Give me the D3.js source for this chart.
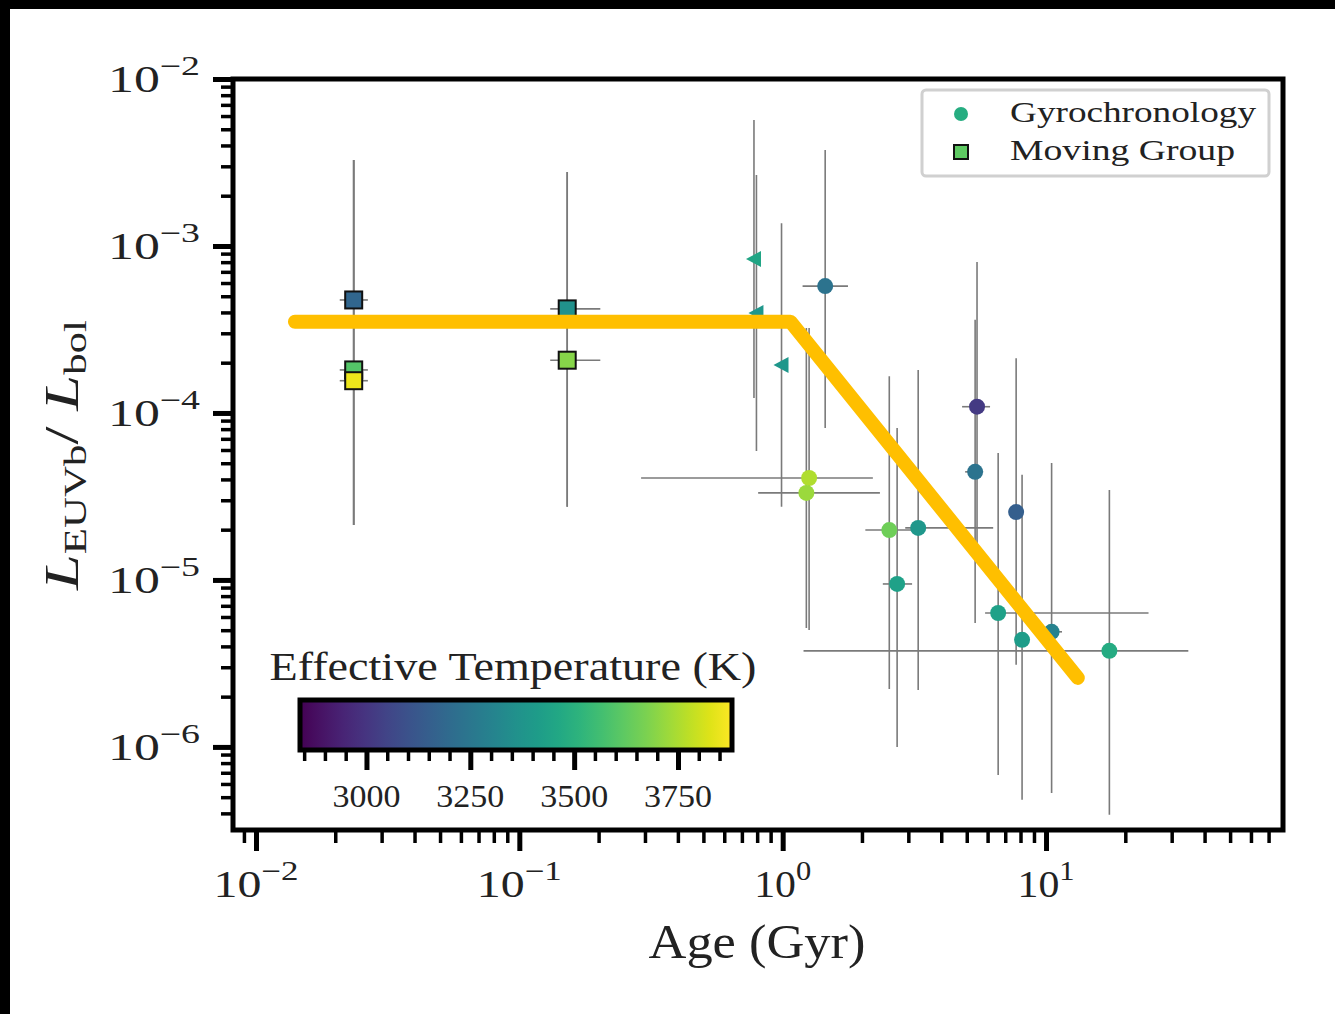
<!DOCTYPE html>
<html><head><meta charset="utf-8">
<script src="https://cdn.jsdelivr.net/npm/d3@7"></script>
<style>body{margin:0;background:#fff}svg{display:block}</style>
</head><body><svg id="c" width="1335" height="1014"></svg>
<script>
// ---------- data ----------
// Moving group (squares)
const mgAge   = [0.0235, 0.0235, 0.0235, 0.152, 0.152];
const mgAgeLo = [0.0208, 0.0208, 0.0208, 0.131, 0.131];
const mgAgeHi = [0.0266, 0.0266, 0.0266, 0.203, 0.203];
const mgLum   = [4.75e-4, 1.81e-4, 1.56e-4, 4.2e-4, 2.07e-4];
const mgLumLo = [2.13e-5, 2.13e-5, 2.13e-5, 2.74e-5, 2.74e-5];
const mgLumHi = [3.27e-3, 3.27e-3, 3.27e-3, 2.77e-3, 2.77e-3];
const mgTeff  = [3180, 3600, 3850, 3360, 3690];
// Upper-limit style points (left triangles)
const ulAge   = [0.778, 0.795, 0.99];
const ulLum   = [8.35e-4, 3.97e-4, 1.94e-4];
const ulLumLo = [1.23e-4, 5.91e-5, 2.74e-5];
const ulLumHi = [5.68e-3, 2.66e-3, 1.37e-3];
const ulTeff  = [3450, 3390, 3390];
// Gyrochronology (circles)
const gyAge   = [1.45, 1.26, 1.23, 2.54, 3.27, 2.72, 5.47, 5.38, 7.70, 6.58, 8.11, 10.5, 17.4];
const gyAgeLo = [1.19, 0.290, 0.807, 2.06, 2.92, 2.40, 4.80, 4.93, 7.70, 5.87, 8.11, 10.1, 1.20];
const gyAgeHi = [1.77, 2.20, 2.34, 3.10, 6.30, 3.10, 6.13, 5.77, 7.70, 24.5, 8.11, 11.5, 34.7];
const gyLum   = [5.75e-4, 4.08e-5, 3.32e-5, 1.99e-5, 2.05e-5, 9.46e-6, 1.09e-4, 4.44e-5, 2.55e-5, 6.34e-6, 4.38e-6, 4.89e-6, 3.76e-6];
const gyLumLo = [8.13e-5, 5.02e-6, 5.16e-6, 2.22e-6, 2.19e-6, 1.0e-6, 1.47e-5, 5.53e-6, 3.10e-6, 6.8e-7, 4.82e-7, 5.3e-7, 3.92e-7];
const gyLumHi = [3.76e-3, 3.23e-4, 3.23e-4, 1.66e-4, 1.81e-4, 8.13e-5, 8.02e-4, 3.61e-4, 2.13e-4, 5.75e-5, 4.26e-5, 5.02e-5, 3.46e-5];
const gyTeff  = [3235, 3755, 3725, 3650, 3390, 3430, 3017, 3235, 3150, 3430, 3410, 3300, 3475];
// Broken power-law fit
const fitAge = [0.01406, 1.07, 13.2];
const fitLum = [3.52e-4, 3.52e-4, 2.59e-6];
// ticks
const xMajor = [0.01, 0.1, 1, 10];
const xMajorExp = ["\u22122", "\u22121", "0", "1"];
const yMajor = [1e-6, 1e-5, 1e-4, 1e-3, 1e-2];
const yMajorExp = ["\u22126", "\u22125", "\u22124", "\u22123", "\u22122"];
const cbMajor = [3000, 3250, 3500, 3750];
const cbMinor = [2850, 2900, 2950, 3050, 3100, 3150, 3200, 3300, 3350, 3400, 3450, 3550, 3600, 3650, 3700, 3800, 3850];
const legendLabels = ["Gyrochronology", "Moving Group"];

// ---------- setup ----------
const svg = d3.select("#c");
const FONT = "'Liberation Serif', 'DejaVu Serif', serif";
const M = {left: 233, right: 1283, top: 79, bottom: 830};
const x = d3.scaleLog().domain([0.00818, 79.4]).range([M.left, M.right]);
const y = d3.scaleLog().domain([3.18e-7, 1e-2]).range([M.bottom, M.top]);
const tMin = 2840, tMax = 3880;
const color = t => d3.interpolateViridis((t - tMin) / (tMax - tMin));

svg.append("rect").attr("width", 1335).attr("height", 1014).attr("fill", "#fff");

// ---------- ticks ----------
const isMajor = v => Math.abs(Math.log10(v) - Math.round(Math.log10(v))) < 1e-6;
const xMinor = x.ticks(20).filter(v => !isMajor(v));
const yMinor = y.ticks(20).filter(v => !isMajor(v));

function styleAxis(g, w) {
  g.select(".domain").remove();
  g.selectAll(".tick line").attr("stroke", "#000").attr("stroke-width", w);
}
svg.append("g").attr("transform", `translate(0,${M.bottom})`)
  .call(d3.axisBottom(x).tickValues(xMinor).tickSize(13).tickFormat(""))
  .call(g => styleAxis(g, 3.5));
svg.append("g").attr("transform", `translate(0,${M.bottom})`)
  .call(d3.axisBottom(x).tickValues(xMajor).tickSize(21).tickFormat(""))
  .call(g => styleAxis(g, 5));
svg.append("g").attr("transform", `translate(${M.left},0)`)
  .call(d3.axisLeft(y).tickValues(yMinor).tickSize(12).tickFormat(""))
  .call(g => styleAxis(g, 3.5));
svg.append("g").attr("transform", `translate(${M.left},0)`)
  .call(d3.axisLeft(y).tickValues(yMajor).tickSize(20).tickFormat(""))
  .call(g => styleAxis(g, 5));

// tick labels
xMajor.forEach((v, i) => {
  const neg = xMajorExp[i].startsWith("\u2212");
  const t = svg.append("text").attr("x", x(v)).attr("y", 897)
    .attr("text-anchor", "middle").attr("font-family", FONT).attr("fill", "#222")
    .attr("textLength", neg ? 85 : 57).attr("lengthAdjust", "spacingAndGlyphs");
  t.append("tspan").attr("font-size", 37).text("10");
  t.append("tspan").attr("font-size", 27).attr("dy", -17).text(xMajorExp[i]);
});
yMajor.forEach((v, i) => {
  const t = svg.append("text").attr("x", 108).attr("y", y(v) + 13)
    .attr("text-anchor", "start").attr("font-family", FONT).attr("fill", "#222")
    .attr("textLength", 92).attr("lengthAdjust", "spacingAndGlyphs");
  t.append("tspan").attr("font-size", 37).text("10");
  t.append("tspan").attr("font-size", 27).attr("dy", -17).text(yMajorExp[i]);
});

// axis labels
svg.append("text").attr("x", 757).attr("y", 958).attr("text-anchor", "middle")
  .attr("font-family", FONT).attr("font-size", 48).attr("fill", "#222")
  .attr("textLength", 217).attr("lengthAdjust", "spacingAndGlyphs")
  .text("Age (Gyr)");
{
  const t = svg.append("text").attr("transform", "translate(78,455) rotate(-90)")
    .attr("text-anchor", "middle").attr("font-family", FONT).attr("fill", "#222")
    .attr("textLength", 270).attr("lengthAdjust", "spacingAndGlyphs");
  t.append("tspan").attr("font-size", 48).attr("font-style", "italic").text("L");
  t.append("tspan").attr("font-size", 32).attr("dy", 8).text("EUVb");
  t.append("tspan").attr("font-size", 48).attr("dy", -8).text("/ ");
  t.append("tspan").attr("font-size", 48).attr("font-style", "italic").text("L");
  t.append("tspan").attr("font-size", 32).attr("dy", 8).text("bol");
}

// ---------- error bars ----------
const eb = svg.append("g").attr("stroke", "#7a7a7a").attr("stroke-width", 1.6);
function errBars(age, ageLo, ageHi, lum, lumLo, lumHi) {
  age.forEach((a, i) => {
    eb.append("line").attr("x1", x(a)).attr("x2", x(a))
      .attr("y1", y(lumLo[i])).attr("y2", y(lumHi[i]));
    if (ageLo && ageHi[i] > ageLo[i]) {
      eb.append("line").attr("x1", x(ageLo[i])).attr("x2", x(ageHi[i]))
        .attr("y1", y(lum[i])).attr("y2", y(lum[i]));
    }
  });
}
errBars(mgAge, mgAgeLo, mgAgeHi, mgLum, mgLumLo, mgLumHi);
errBars(ulAge, null, null, ulLum, ulLumLo, ulLumHi);
errBars(gyAge, gyAgeLo, gyAgeHi, gyLum, gyLumLo, gyLumHi);

// ---------- markers ----------
svg.append("g").selectAll("path").data(ulAge).join("path")
  .attr("d", "M-8,0L7,-8L7,8Z")
  .attr("transform", (d, i) => `translate(${x(d)},${y(ulLum[i])})`)
  .attr("fill", (d, i) => color(ulTeff[i]));
svg.append("g").selectAll("circle").data(gyAge).join("circle")
  .attr("cx", d => x(d)).attr("cy", (d, i) => y(gyLum[i])).attr("r", 8)
  .attr("fill", (d, i) => color(gyTeff[i]));
svg.append("g").selectAll("rect").data(mgAge).join("rect")
  .attr("x", d => x(d) - 8.5).attr("y", (d, i) => y(mgLum[i]) - 8.5)
  .attr("width", 17).attr("height", 17)
  .attr("fill", (d, i) => color(mgTeff[i])).attr("stroke", "#111").attr("stroke-width", 2);

// ---------- fit line ----------
svg.append("path")
  .datum(fitAge.map((a, i) => [a, fitLum[i]]))
  .attr("d", d3.line().x(d => x(d[0])).y(d => y(d[1])))
  .attr("fill", "none").attr("stroke", "#ffbf00").attr("stroke-width", 14)
  .attr("stroke-linecap", "round").attr("stroke-linejoin", "round");

// ---------- spines ----------
svg.append("rect").attr("x", M.left).attr("y", M.top)
  .attr("width", M.right - M.left).attr("height", M.bottom - M.top)
  .attr("fill", "none").attr("stroke", "#000").attr("stroke-width", 5);

// ---------- legend ----------
const lg = svg.append("g");
lg.append("rect").attr("x", 922).attr("y", 90).attr("width", 347).attr("height", 86)
  .attr("rx", 4).attr("fill", "#fff").attr("stroke", "#d0d0d0").attr("stroke-width", 3);
lg.append("circle").attr("cx", 961).attr("cy", 114).attr("r", 7).attr("fill", d3.interpolateViridis(0.62));
lg.append("rect").attr("x", 954).attr("y", 145).attr("width", 14).attr("height", 14)
  .attr("fill", d3.interpolateViridis(0.75)).attr("stroke", "#111").attr("stroke-width", 2);
lg.append("text").attr("x", 1010).attr("y", 122).attr("font-family", FONT).attr("font-size", 30)
  .attr("fill", "#222").attr("textLength", 246).attr("lengthAdjust", "spacingAndGlyphs").text(legendLabels[0]);
lg.append("text").attr("x", 1010).attr("y", 160).attr("font-family", FONT).attr("font-size", 30)
  .attr("fill", "#222").attr("textLength", 225).attr("lengthAdjust", "spacingAndGlyphs").text(legendLabels[1]);

// ---------- colorbar ----------
const cb = d3.scaleLinear().domain([tMin, tMax]).range([300, 732]);
const grad = svg.append("defs").append("linearGradient").attr("id", "vir")
  .attr("x1", "0%").attr("x2", "100%").attr("y1", "0%").attr("y2", "0%");
d3.range(0, 1.0001, 0.05).forEach(s => grad.append("stop")
  .attr("offset", `${s * 100}%`).attr("stop-color", d3.interpolateViridis(s)));
svg.append("rect").attr("x", cb(tMin)).attr("y", 700).attr("width", cb(tMax) - cb(tMin)).attr("height", 50)
  .attr("fill", "url(#vir)").attr("stroke", "#000").attr("stroke-width", 5);
svg.append("g").attr("transform", "translate(0,752)")
  .call(d3.axisBottom(cb).tickValues(cbMinor).tickSize(9).tickFormat(""))
  .call(g => styleAxis(g, 3.5));
svg.append("g").attr("transform", "translate(0,752)")
  .call(d3.axisBottom(cb).tickValues(cbMajor).tickSize(18).tickFormat(""))
  .call(g => styleAxis(g, 5));
svg.append("g").selectAll("text").data(cbMajor).join("text")
  .attr("x", d => cb(d)).attr("y", 807).attr("text-anchor", "middle")
  .attr("font-family", FONT).attr("font-size", 31).attr("fill", "#222")
  .attr("textLength", 68).attr("lengthAdjust", "spacingAndGlyphs").text(d => d);
svg.append("text").attr("x", 513).attr("y", 680).attr("text-anchor", "middle")
  .attr("font-family", FONT).attr("font-size", 39).attr("fill", "#222")
  .attr("textLength", 487).attr("lengthAdjust", "spacingAndGlyphs")
  .text("Effective Temperature (K)");

// ---------- black edge bands of the picture ----------
svg.append("rect").attr("x", 0).attr("y", 0).attr("width", 1335).attr("height", 9).attr("fill", "#000");
svg.append("rect").attr("x", 0).attr("y", 0).attr("width", 10).attr("height", 1014).attr("fill", "#000");
</script></body></html>
